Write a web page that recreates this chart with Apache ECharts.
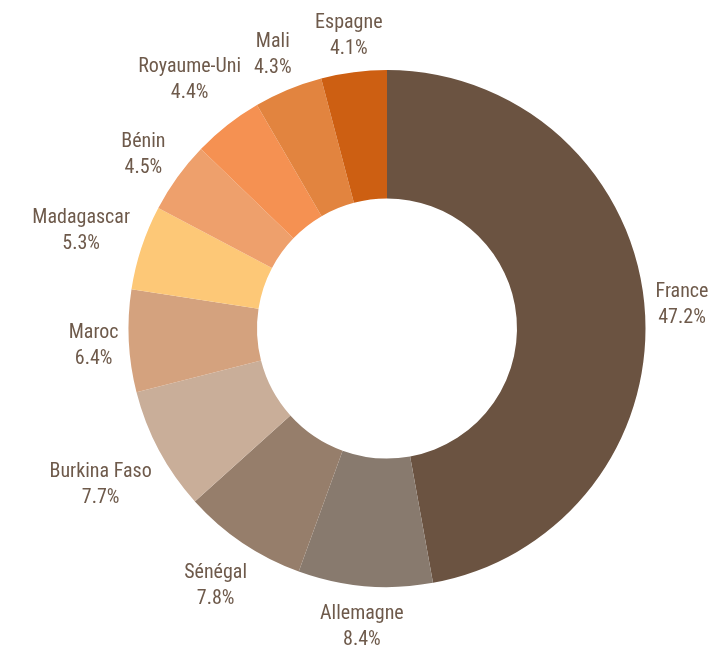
<!DOCTYPE html>
<html>
<head>
<meta charset="utf-8">
<script src="https://cdn.jsdelivr.net/npm/echarts@6/dist/echarts.min.js"></script>
<style>
  html, body { margin: 0; padding: 0; background: #fff; }
  #chart { width: 713px; height: 648px; }
</style>
</head>
<body>
<div id="chart"></div>
<script>
// pays et parts (%)
var countries = ['France', 'Allemagne', 'Sénégal', 'Burkina Faso', 'Maroc', 'Madagascar', 'Bénin', 'Royaume-Uni', 'Mali', 'Espagne'];
var shares = [47.2, 8.4, 7.8, 7.7, 6.4, 5.3, 4.5, 4.4, 4.3, 4.1];
var colors = ['#6b5341', '#887a6e', '#967e6b', '#c9ae99', '#d4a27e', '#fdc877', '#eea06c', '#f59152', '#e2843f', '#cd5f12'];

var center = [387, 328.5];
var radius = [130, 258.5];
var labelGap = 9;

var total = shares.reduce(function (a, b) { return a + b; }, 0);

var myChart = echarts.init(document.getElementById('chart'));

myChart.setOption({
  animation: false,
  color: colors,
  textStyle: { fontFamily: '"Roboto Condensed", "Liberation Sans Narrow", Roboto, sans-serif' },
  series: [{
    type: 'pie',
    center: center,
    radius: radius,
    startAngle: 90,
    clockwise: true,
    avoidLabelOverlap: false,
    data: countries.map(function (c, i) {
      return { name: c, value: shares[i] };
    }),
    label: {
      show: true,
      position: 'outside',
      formatter: function (p) { return p.name + '\n' + p.value.toFixed(1) + '%'; },
      color: '#6e5a4b',
      fontSize: 20,
      lineHeight: 26,
      align: 'center'
    },
    labelLine: { show: false },
    labelLayout: function (params) {
      // place le centre du label juste en dehors de l'anneau, dans l'axe de la part
      var before = 0;
      for (var i = 0; i < params.dataIndex; i++) before += shares[i];
      var mid = (before + shares[params.dataIndex] / 2) / total * Math.PI * 2;
      var dx = Math.sin(mid), dy = -Math.cos(mid);
      var w = params.labelRect.width / 2, h = params.labelRect.height / 2;
      var d = radius[1] + labelGap + Math.abs(dx) * w + Math.abs(dy) * h;
      return {
        x: center[0] + dx * d,
        y: center[1] + dy * d + 3,
        align: 'center',
        verticalAlign: 'middle'
      };
    }
  }]
});
</script>
</body>
</html>
